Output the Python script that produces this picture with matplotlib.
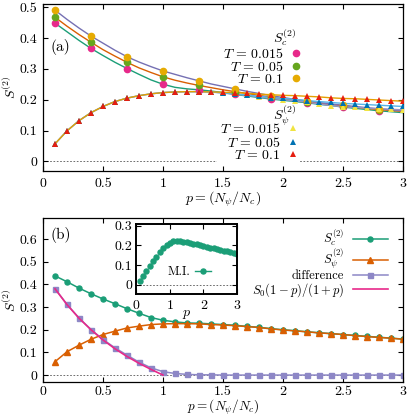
import numpy as np
import matplotlib
matplotlib.use('Agg')
import matplotlib.pyplot as plt
from matplotlib.ticker import FuncFormatter

plt.rcParams['font.family'] = 'serif'
plt.rcParams['font.serif'] = ['cmr10']
plt.rcParams['mathtext.fontset'] = 'cm'
plt.rcParams['axes.formatter.use_mathtext'] = True
plt.rcParams['font.size'] = 10

# p grid of the data (0.1 ... 3.0)
p = np.round(np.arange(1, 31) * 0.1, 1)

# ---- panel (a): S_c fits (circles sit on every third point) ----
temps = ['0.015', '0.05', '0.1']
sc_t0015 = [0.448, 0.420, 0.392, 0.366, 0.343, 0.321, 0.301, 0.282, 0.264, 0.250,
            0.240, 0.235, 0.232, 0.228, 0.223, 0.217, 0.212, 0.207, 0.202, 0.198,
            0.194, 0.190, 0.185, 0.181, 0.176, 0.172, 0.168, 0.164, 0.161, 0.158]
sc_t005 = [0.467, 0.438, 0.411, 0.386, 0.362, 0.341, 0.321, 0.303, 0.288, 0.274,
           0.263, 0.254, 0.246, 0.239, 0.232, 0.226, 0.220, 0.214, 0.208, 0.203,
           0.198, 0.193, 0.188, 0.184, 0.180, 0.176, 0.172, 0.168, 0.165, 0.162]
sc_t01 = [0.490, 0.460, 0.432, 0.406, 0.383, 0.360, 0.339, 0.322, 0.307, 0.293,
          0.282, 0.271, 0.261, 0.251, 0.243, 0.235, 0.227, 0.220, 0.213, 0.207,
          0.201, 0.196, 0.191, 0.186, 0.182, 0.178, 0.174, 0.170, 0.167, 0.164]

# ---- panel (a): S_psi ----
spsi_low = [0.057, 0.099, 0.132, 0.158, 0.178, 0.194, 0.205, 0.213, 0.219, 0.223,
            0.225, 0.226, 0.226, 0.225]
spsi_t0015 = spsi_low + [0.221, 0.218, 0.214, 0.209, 0.204, 0.200, 0.196, 0.192,
                         0.186, 0.181, 0.177, 0.175, 0.173, 0.171, 0.169, 0.167]
spsi_t005 = spsi_low + [0.222, 0.219, 0.215, 0.211, 0.207, 0.204, 0.201, 0.197,
                        0.194, 0.191, 0.188, 0.186, 0.184, 0.182, 0.180, 0.178]
spsi_t01 = spsi_low + [0.224, 0.223, 0.221, 0.218, 0.216, 0.214, 0.213, 0.211,
                       0.209, 0.206, 0.204, 0.203, 0.201, 0.199, 0.197, 0.195]

# ---- panel (b) ----
sc_b = [0.438, 0.412, 0.384, 0.359, 0.336, 0.315, 0.293, 0.273, 0.254, 0.242,
        0.235, 0.230, 0.229, 0.226, 0.223, 0.220, 0.215, 0.211, 0.205, 0.200,
        0.196, 0.191, 0.187, 0.183, 0.179, 0.175, 0.171, 0.167, 0.163, 0.159]
spsi_b = [0.059, 0.103, 0.132, 0.158, 0.179, 0.194, 0.208, 0.216, 0.223, 0.226,
          0.227, 0.227, 0.226, 0.223, 0.221, 0.218, 0.214, 0.210, 0.204, 0.199,
          0.195, 0.191, 0.186, 0.183, 0.179, 0.174, 0.170, 0.166, 0.163, 0.158]
diff_b = [0.381, 0.312, 0.252, 0.201, 0.157, 0.120, 0.088, 0.057, 0.032, 0.015,
          0.007, 0.003, 0.001, 0.001, 0.0, 0.0, 0.0, 0.0, 0.0, 0.0,
          0.0, 0.0, 0.0, 0.0, 0.0, 0.0, 0.0, 0.0, 0.0, 0.0]
s0_curve = [0.381, 0.311, 0.251, 0.200, 0.155, 0.116, 0.082, 0.052, 0.025, 0.0]
mi = [0.018, 0.045, 0.070, 0.095, 0.120, 0.142, 0.165, 0.185, 0.200, 0.212,
      0.220, 0.222, 0.221, 0.219, 0.216, 0.213, 0.209, 0.205, 0.201, 0.197,
      0.193, 0.189, 0.185, 0.181, 0.177, 0.173, 0.169, 0.165, 0.161, 0.157]

fmt = FuncFormatter(lambda v, _: '%g' % round(v, 3))


def style_axes(ax, pad=5):
    ax.tick_params(direction='in', top=True, right=True, length=3.5, width=0.8,
                   pad=pad)
    ax.tick_params(axis='y', pad=pad - 1)
    ax.xaxis.set_major_formatter(fmt)
    ax.yaxis.set_major_formatter(fmt)
    for s in ax.spines.values():
        s.set_linewidth(0.9)


fig = plt.figure(figsize=(4.07, 4.16), dpi=100)
ax1 = fig.add_axes([0.1057, 0.589, 0.8845, 0.4014])
ax2 = fig.add_axes([0.1057, 0.081, 0.8845, 0.3957])
axi = fig.add_axes([0.3349, 0.2925, 0.2474, 0.1697])

# panel (a)
sc_all = [sc_t0015, sc_t005, sc_t01]
sc_line_cols = ['#1b9e77', '#d95f02', '#7570b3']
sc_mark_cols = ['#e7298a', '#66a61e', '#e6ab02']
spsi_all = [spsi_t0015, spsi_t005, spsi_t01]
spsi_line_cols = ['#9a94c4', '#56b4e9', '#e69f00']
spsi_mark_cols = ['#f0e442', '#0072b2', '#e51e10']

ax1.axhline(0, color='#555555', lw=0.6, ls=(0, (2, 2)), zorder=1)
for vals, lc in zip(sc_all, sc_line_cols):
    ax1.plot(p, vals, color=lc, lw=1.0, zorder=2)
for vals, lc in zip(spsi_all, spsi_line_cols):
    ax1.plot(p, vals, color=lc, lw=1.0, zorder=2)
hc = []
for vals, mc, t in zip(sc_all, sc_mark_cols, temps):
    h, = ax1.plot(p[::3], np.array(vals)[::3], 'o', color=mc, ms=4.5, zorder=3,
                  label=r'$T\,=\,%s$' % t)
    hc.append(h)
hp = []
for vals, mc, t in zip(spsi_all, spsi_mark_cols, temps):
    h, = ax1.plot(p, vals, '^', color=mc, ms=4.2, mew=0, zorder=4,
                  label=r'$T\,=\,%s$' % t)
    hp.append(h)

ax1.set_xlim(0, 3)
ax1.set_ylim(-0.031, 0.51)
ax1.set_xticks(np.arange(0, 3.01, 0.5))
ax1.set_yticks(np.arange(0, 0.51, 0.1))
style_axes(ax1)
ax1.set_xlabel(r'$p = (N_\psi/N_c)$', labelpad=0)
ax1.set_ylabel(r'$S^{(2)}$', va='center')
ax1.yaxis.set_label_coords(-0.09, 0.5)
ax1.text(0.06, 0.37, '(a)', fontsize=11, va='center')

ax1.text(0.703, 0.80, r'$S_c^{(2)}$', transform=ax1.transAxes, ha='right', va='center')
leg1 = ax1.legend(handles=hc, markerfirst=False, loc='upper right',
                  bbox_to_anchor=(0.714, 0.745), frameon=False, handlelength=0.6,
                  handletextpad=0.6, borderpad=0, borderaxespad=0,
                  labelspacing=-0.05)
ax1.add_artist(leg1)
ax1.text(0.703, 0.332, r'$S_\psi^{(2)}$', transform=ax1.transAxes, ha='right',
         va='center', zorder=6)
leg2 = ax1.legend(handles=hp, markerfirst=False, loc='upper right',
                  bbox_to_anchor=(0.714, 0.308), frameon=True, facecolor='white',
                  edgecolor='none', framealpha=1, fancybox=False, handlelength=0.6,
                  handletextpad=0.6, borderpad=0.2, borderaxespad=0,
                  labelspacing=-0.05)
leg2.set_zorder(5)

# panel (b)
ax2.axhline(0, color='#555555', lw=0.6, ls=(0, (2, 2)), zorder=1)
ax2.plot(p, sc_b, '-o', color='#1b9e77', lw=1.1, ms=3.6, label=r'$S_c^{(2)}$')
ax2.plot(p, spsi_b, '-^', color='#d95f02', lw=1.1, ms=3.8, label=r'$S_\psi^{(2)}$')
ax2.plot(p, diff_b, '-s', color='#8d87c6', lw=1.1, ms=3.6, label='difference')
ax2.plot(p[:10], s0_curve, '-', color='#e7298a', lw=1.2, label=r'$S_0(1-p)/(1+p)$')
ax2.set_xlim(0, 3)
ax2.set_ylim(-0.032, 0.695)
ax2.set_xticks(np.arange(0, 3.01, 0.5))
ax2.set_yticks(np.arange(0, 0.61, 0.1))
style_axes(ax2)
ax2.tick_params(axis='x', pad=2.5)
ax2.set_xlabel(r'$p = (N_\psi/N_c)$', labelpad=0, fontsize=9.5)
ax2.set_ylabel(r'$S^{(2)}$', va='center')
ax2.yaxis.set_label_coords(-0.09, 0.5)
ax2.text(0.06, 0.62, '(b)', fontsize=11, va='center')
ax2.legend(markerfirst=False, loc='upper right', bbox_to_anchor=(0.958, 0.938),
           frameon=False, handlelength=2.8, handletextpad=0.7, borderpad=0,
           borderaxespad=0, labelspacing=-0.1, fontsize=9)

# inset
axi.axhline(0, color='#555555', lw=0.6, ls=(0, (2, 2)), zorder=1)
axi.plot(p, mi, 'o', color='#1b9e77', ms=3.6)
axi.set_xlim(0, 3)
axi.set_ylim(-0.049, 0.31)
axi.set_xticks([0, 1, 2, 3])
axi.set_yticks([0, 0.1, 0.2, 0.3])
style_axes(axi, pad=4)
for s in axi.spines.values():
    s.set_linewidth(1.4)
axi.set_xlabel(r'$p$', labelpad=-3)
h_mi, = axi.plot([], [], '-o', color='#1b9e77', lw=1.0, ms=3.6)
axi.legend([h_mi], ['M.I.'], markerfirst=False, loc='lower right',
           bbox_to_anchor=(0.82, 0.12), frameon=False, handlelength=1.3,
           handletextpad=0.4, borderpad=0.1, fontsize=9)

fig.savefig('out.png', dpi=100)
